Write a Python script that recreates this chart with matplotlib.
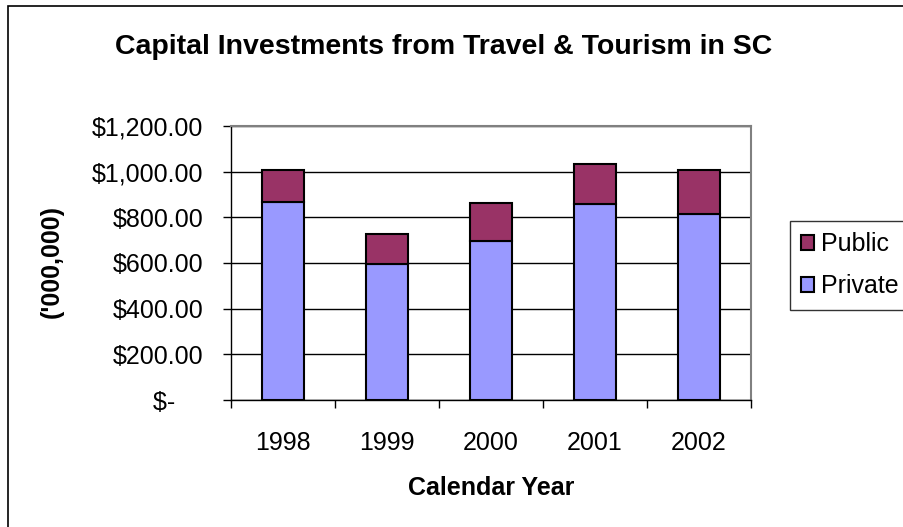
import matplotlib
matplotlib.use("Agg")
import matplotlib.pyplot as plt
from matplotlib.patches import Rectangle
from matplotlib.ticker import FixedLocator

plt.rcParams['font.family'] = ['Liberation Sans', 'DejaVu Sans']

# 数据（单位：百万美元）
years = ['1998', '1999', '2000', '2001', '2002']
private = [868, 597, 695, 858, 816]
public = [139, 131, 166, 177, 191]
y_ticks = [0, 200, 400, 600, 800, 1000, 1200]
y_tick_labels = ['$-    ', '$200.00', '$400.00', '$600.00', '$800.00', '$1,000.00', '$1,200.00']

W, H = 904, 527
fig = plt.figure(figsize=(W / 100, H / 100), dpi=100)

# 外框
fig.patches.append(Rectangle((8 / W, -0.1), 1.2, 1.1 - 6 / H, transform=fig.transFigure,
                             fill=False, edgecolor='black', linewidth=1.2, clip_on=False))

ax = fig.add_axes([231 / W, 1 - 400 / H, (751 - 231) / W, (400 - 126) / H])

x = range(len(years))
b1 = ax.bar(x, private, width=0.41, color='#9999FF', edgecolor='black', linewidth=1.5,
            label='Private', zorder=3)
b2 = ax.bar(x, public, bottom=private, width=0.41, color='#993366', edgecolor='black',
            linewidth=1.5, label='Public', zorder=3)

ax.set_xlim(-0.5, len(years) - 0.5)
ax.set_ylim(0, 1200)
ax.set_yticks(y_ticks)
ax.set_yticklabels(y_tick_labels)
ax.yaxis.grid(True, color='black', linewidth=1)
ax.set_axisbelow(True)

ax.set_xticks(list(x))
ax.set_xticklabels(years)
ax.xaxis.set_minor_locator(FixedLocator([i - 0.5 for i in range(len(years) + 1)]))
ax.tick_params(axis='x', which='major', length=0, pad=22, labelsize=18)
ax.tick_params(axis='x', which='minor', length=6, width=1, direction='out')
ax.tick_params(axis='y', length=6, width=1, direction='out', pad=14, labelsize=18)

for s in ['top', 'right']:
    ax.spines[s].set_color('#808080')
    ax.spines[s].set_linewidth(1.5)
for s in ['left', 'bottom']:
    ax.spines[s].set_color('black')
    ax.spines[s].set_linewidth(1)

fig.text(444 / W, 1 - 47 / H, 'Capital Investments from Travel & Tourism in SC',
         ha='center', va='center', fontsize=20.5, fontweight='bold')
fig.text(52 / W, 1 - 261 / H, "('000,000)", ha='center', va='center', rotation=90,
         fontsize=18, fontweight='bold')
fig.text(491 / W, 1 - 488 / H, 'Calendar Year', ha='center', va='center',
         fontsize=18, fontweight='bold')

leg = fig.legend([b2, b1], ['Public', 'Private'], loc='upper left',
                 bbox_to_anchor=(790 / W, 1 - 221 / H), fontsize=18,
                 handlelength=0.5, handleheight=0.5, handletextpad=0.3,
                 borderpad=0.45, labelspacing=0.72, fancybox=False, borderaxespad=0)
leg.get_frame().set_edgecolor('black')
leg.get_frame().set_linewidth(1)

fig.savefig('out.png', dpi=100)
